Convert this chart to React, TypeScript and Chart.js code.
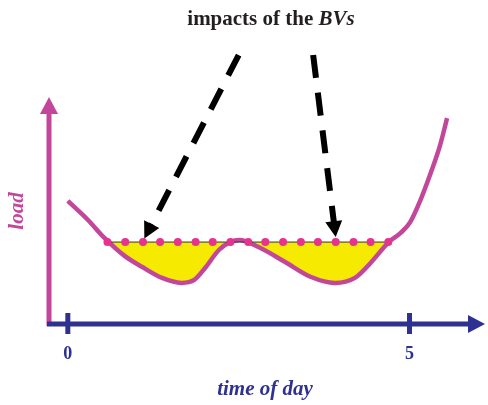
import React, { useEffect, useRef } from 'react';
import { Chart, registerables } from 'chart.js';

Chart.register(...registerables);

// ---- data ----
const curveX = [0, 0.295, 0.54, 0.83, 1.09, 1.38, 1.66, 1.85, 2.02, 2.21, 2.38, 2.51, 2.79, 3.18, 3.56, 3.91, 4.2, 4.43, 4.7, 4.87, 5.01, 5.16, 5.31, 5.44, 5.55];
const curveY = [54.2, 45.8, 37.8, 30.0, 25.1, 20.3, 18.1, 19.4, 25.1, 32.6, 36.1, 37.0, 33.9, 27.3, 20.7, 18.1, 20.3, 26.9, 36.2, 40.1, 44.9, 54.6, 66.5, 78.0, 90.7];
const dotX = [0.58, 0.84, 1.1, 1.35, 1.61, 1.87, 2.12, 2.38, 2.64, 2.89, 3.15, 3.41, 3.66, 3.92, 4.18, 4.43, 4.69];
const dotLevel = 36.1;
const xTickValues = [0, 5];
const xTickLabels = ['0', '5'];
const arrowFromX = [2.5, 3.59];
const arrowFromY = [118.5, 118.5];
const arrowToX = [1.12, 3.92];
const arrowToY = [37.7, 38.3];

const X_MIN = -0.29;
const X_MAX = 6.09;
const Y_MIN = 0;
const Y_MAX = 100;

const NAVY = '#2e3192';
const MAGENTA = '#c2479b';
const PINK = '#e6338f';
const YELLOW = '#f6eb00';
const SERIF = "'Liberation Serif', 'DejaVu Serif', serif";

const overlayPlugin = {
  id: 'overlay',
  afterDraw(chart: any) {
    const ctx = chart.ctx as CanvasRenderingContext2D;
    const xs = chart.scales.x;
    const ys = chart.scales.y;
    const area = chart.chartArea;
    const axisY = ys.getPixelForValue(Y_MIN);
    const axisX = xs.getPixelForValue(X_MIN) + 1;
    ctx.save();

    // y axis (magenta) with arrow
    ctx.strokeStyle = MAGENTA;
    ctx.fillStyle = MAGENTA;
    ctx.lineWidth = 5;
    ctx.beginPath();
    ctx.moveTo(axisX, axisY + 2);
    ctx.lineTo(axisX, area.top + 16);
    ctx.stroke();
    ctx.beginPath();
    ctx.moveTo(axisX, area.top);
    ctx.lineTo(axisX - 9, area.top + 17);
    ctx.lineTo(axisX + 9, area.top + 17);
    ctx.closePath();
    ctx.fill();

    // x axis (navy) with arrow
    ctx.strokeStyle = NAVY;
    ctx.fillStyle = NAVY;
    ctx.lineWidth = 5;
    ctx.beginPath();
    ctx.moveTo(axisX - 2, axisY);
    ctx.lineTo(area.right - 14, axisY);
    ctx.stroke();
    ctx.beginPath();
    ctx.moveTo(area.right + 1, axisY);
    ctx.lineTo(area.right - 16, axisY - 9);
    ctx.lineTo(area.right - 16, axisY + 9);
    ctx.closePath();
    ctx.fill();

    // ticks + labels
    ctx.font = `bold 18px ${SERIF}`;
    ctx.textAlign = 'center';
    ctx.textBaseline = 'middle';
    xTickValues.forEach((v, i) => {
      const px = xs.getPixelForValue(v);
      ctx.beginPath();
      ctx.moveTo(px, axisY - 11);
      ctx.lineTo(px, axisY + 10);
      ctx.stroke();
      ctx.fillText(xTickLabels[i], px, axisY + 30);
    });

    // x axis title
    ctx.font = `italic bold 21px ${SERIF}`;
    ctx.fillText('time of day', 265, 390);

    // y axis title
    ctx.save();
    ctx.translate(18, 211);
    ctx.rotate(-Math.PI / 2);
    ctx.fillStyle = MAGENTA;
    ctx.font = `italic bold 21px ${SERIF}`;
    ctx.fillText('load', 0, 0);
    ctx.restore();

    // main title with italic part
    ctx.fillStyle = '#231f20';
    ctx.textAlign = 'left';
    ctx.textBaseline = 'alphabetic';
    const p1 = 'impacts of the ';
    const p2 = 'BVs';
    ctx.font = `bold 21px ${SERIF}`;
    const w1 = ctx.measureText(p1).width;
    ctx.font = `italic bold 21px ${SERIF}`;
    const w2 = ctx.measureText(p2).width;
    const startX = 271 - (w1 + w2) / 2;
    ctx.font = `bold 21px ${SERIF}`;
    ctx.fillText(p1, startX, 25);
    ctx.font = `italic bold 21px ${SERIF}`;
    ctx.fillText(p2, startX + w1, 25);

    // dashed arrows
    ctx.strokeStyle = '#000';
    ctx.fillStyle = '#000';
    for (let i = 0; i < arrowFromX.length; i++) {
      const x0 = xs.getPixelForValue(arrowFromX[i]);
      const y0 = ys.getPixelForValue(arrowFromY[i]);
      const x1 = xs.getPixelForValue(arrowToX[i]);
      const y1 = ys.getPixelForValue(arrowToY[i]);
      const dx = x1 - x0;
      const dy = y1 - y0;
      const len = Math.hypot(dx, dy);
      const ux = dx / len;
      const uy = dy / len;
      const headLen = 16;
      const headHalf = 8.5;
      const bx = x1 - ux * headLen;
      const by = y1 - uy * headLen;
      ctx.lineWidth = 6;
      ctx.setLineDash([23, 15]);
      ctx.lineCap = 'butt';
      ctx.beginPath();
      ctx.moveTo(x0, y0);
      ctx.lineTo(bx + ux * 2, by + uy * 2);
      ctx.stroke();
      ctx.setLineDash([]);
      ctx.beginPath();
      ctx.moveTo(x1, y1);
      ctx.lineTo(bx - uy * headHalf, by + ux * headHalf);
      ctx.lineTo(bx + uy * headHalf, by - ux * headHalf);
      ctx.closePath();
      ctx.fill();
    }
    ctx.restore();
  },
};

export default function App() {
  const canvasRef = useRef<HTMLCanvasElement | null>(null);

  useEffect(() => {
    if (!canvasRef.current) return;
    const chart = new Chart(canvasRef.current, {
      type: 'line',
      data: {
        datasets: [
          {
            label: 'threshold',
            data: dotX.map((x) => ({ x, y: dotLevel })),
            borderColor: '#333333',
            borderWidth: 1,
            pointRadius: 4,
            pointBackgroundColor: PINK,
            pointBorderWidth: 0,
            fill: false,
            order: 0,
          },
          {
            label: 'load',
            data: curveX.map((x, i) => ({ x, y: curveY[i] })),
            borderColor: MAGENTA,
            borderWidth: 4.5,
            pointRadius: 0,
            cubicInterpolationMode: 'monotone',
            fill: { target: { value: dotLevel }, above: 'rgba(0,0,0,0)', below: YELLOW },
            order: 1,
          },
        ],
      },
      options: {
        responsive: false,
        animation: false,
        events: [],
        layout: { padding: { left: 48, right: 1, top: 97, bottom: 81 } },
        scales: {
          x: { type: 'linear', min: X_MIN, max: X_MAX, display: false },
          y: { type: 'linear', min: Y_MIN, max: Y_MAX, display: false },
        },
        plugins: {
          legend: { display: false },
          tooltip: { enabled: false },
        },
      },
      plugins: [overlayPlugin],
    } as any);
    return () => chart.destroy();
  }, []);

  return (
    <div style={{ position: 'fixed', left: 0, top: 0, width: 488, height: 405, background: '#fff' }}>
      <canvas ref={canvasRef} width={488} height={405} />
    </div>
  );
}
